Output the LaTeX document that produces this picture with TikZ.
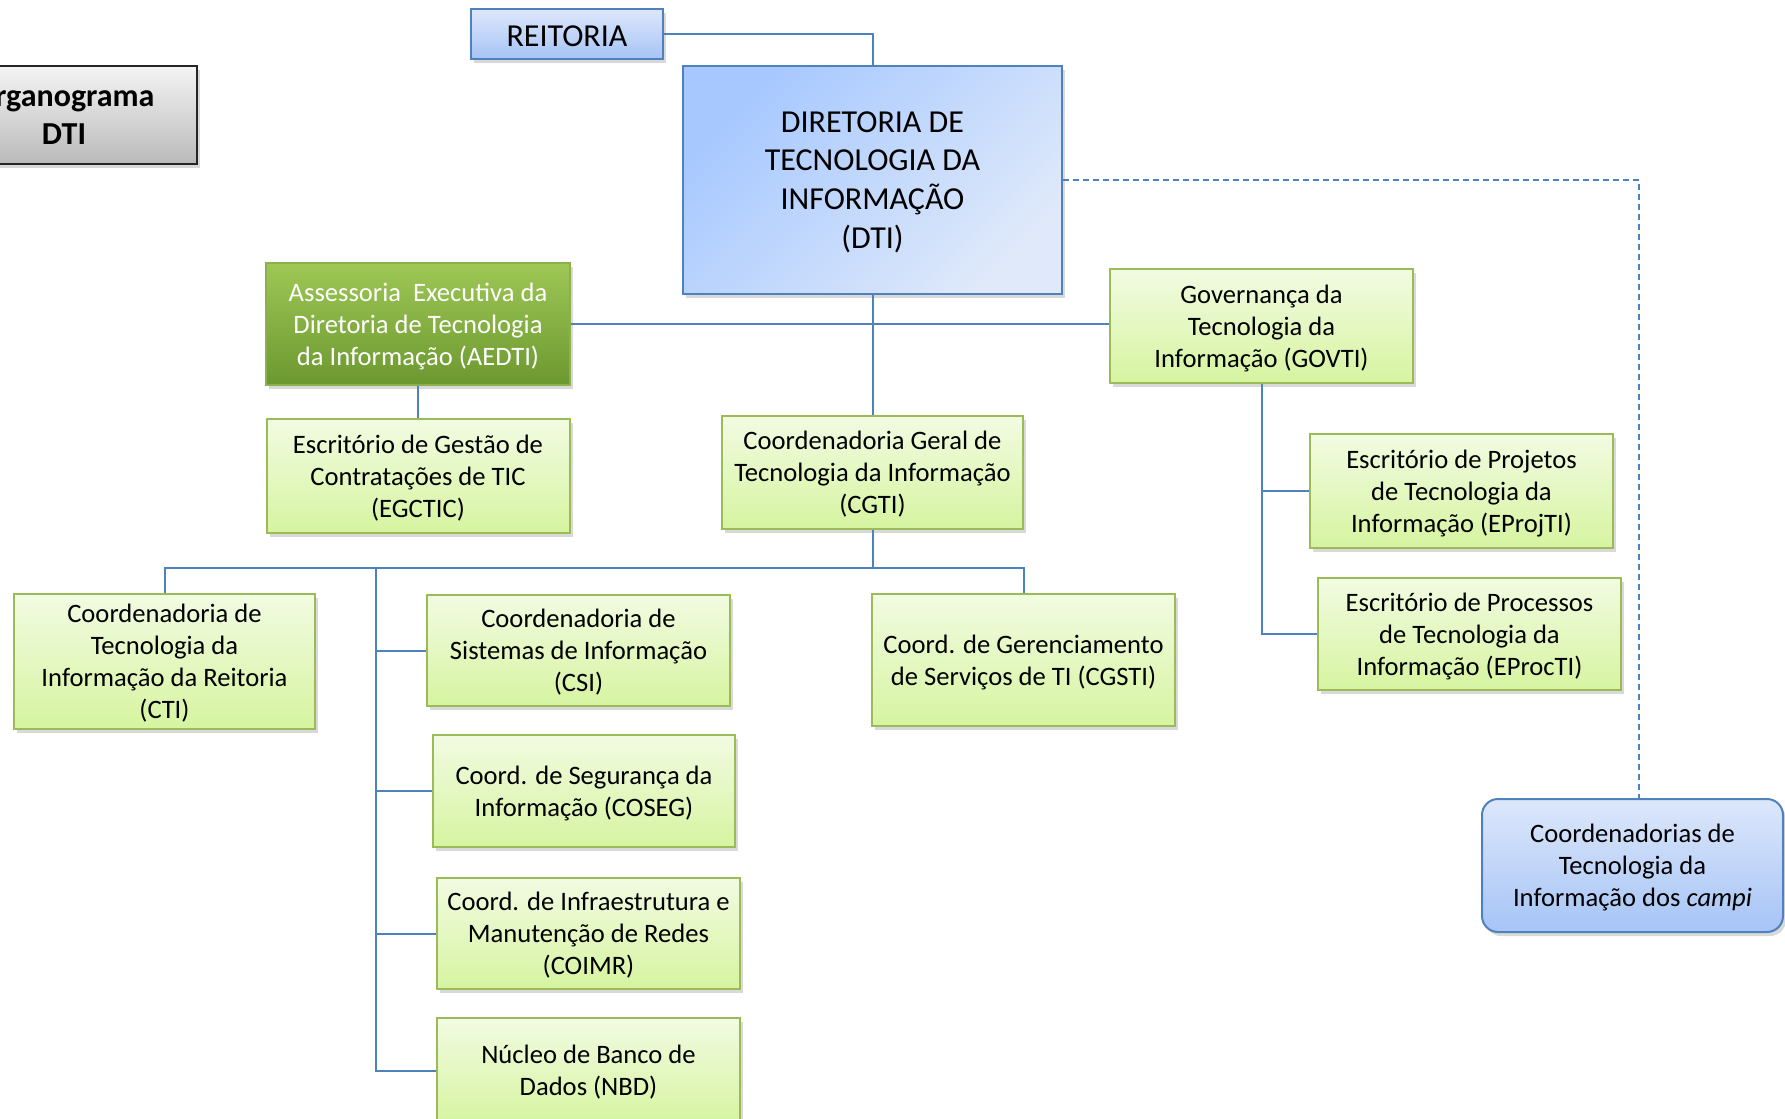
\documentclass[tikz,border=0pt]{standalone}
\usepackage{fontspec}
\setmainfont{Carlito}
\usetikzlibrary{shadows}
\definecolor{linec}{HTML}{4F81BD}
\definecolor{gborder}{HTML}{9BBB59}
\definecolor{gtop}{HTML}{F2FBE2}
\definecolor{gbot}{HTML}{D6F4A0}
\definecolor{atop}{HTML}{9EC755}
\definecolor{abot}{HTML}{6C9830}
\definecolor{aborder}{HTML}{8DB04F}
\definecolor{btop}{HTML}{DDE7FB}
\definecolor{bbot}{HTML}{A6C4F6}
\definecolor{dtitl}{HTML}{A6C8FF}
\definecolor{dtibr}{HTML}{DFE9FA}
\definecolor{bborder}{HTML}{4F81BD}
\definecolor{ogtop}{HTML}{F4F4F4}
\definecolor{ogbot}{HTML}{BABABA}
\begin{document}
\begin{tikzpicture}[x=0.5pt,y=-0.5pt,
  conn/.style={draw=linec, line width=1pt},
  sz/.style 2 args={minimum width={(#1)*0.5pt}, minimum height={(#2)*0.5pt}},
  base/.style={inner sep=0pt, align=center,
    drop shadow={shadow xshift=1.5pt, shadow yshift=-2pt, opacity=0.3}},
  gbox/.style={base, draw=gborder, line width=1pt, top color=gtop, bottom color=gbot,
    font=\fontsize{13.3}{16}\selectfont, text depth=-1pt},
  abox/.style={base, draw=aborder, line width=1pt, top color=atop, bottom color=abot,
    text=white, font=\fontsize{13.3}{16}\selectfont, text depth=-4.4pt},
  bbox/.style={base, draw=bborder, line width=1pt, top color=btop, bottom color=bbot},
  dbox/.style={base, draw=bborder, line width=1pt, top color=dtitl, bottom color=dtibr,
    shading angle=45, font=\fontsize{16}{19.4}\selectfont, text depth=-1.6pt},
  ogbox/.style={base, draw=black!85, line width=1.2pt, top color=ogtop, bottom color=ogbot,
    font=\fontsize{16}{19}\selectfont\bfseries, text depth=-1pt}
]
\useasboundingbox (0,0) rectangle (1785,1119);

% nodes
\node[ogbox, sz={266}{98}] (org) at (64,115) {Organograma\\DTI};
\node[bbox, sz={192}{50}, font=\fontsize{16}{19}\selectfont, execute at begin node={\rule{0pt}{0.8em}}] (reit) at (567,34) {REITORIA};
\node[dbox, sz={379}{228}] (dti) at (872.5,180) {DIRETORIA DE\\TECNOLOGIA DA\\INFORMAÇÃO\\(DTI)};
\node[abox, sz={304}{122}] (aedti) at (418,324) {Assessoria\ \ Executiva da\\Diretoria de Tecnologia\\da Informação (AEDTI)};
\node[gbox, sz={303}{114}, text depth=-1.4pt] (govti) at (1261.5,326) {Governança da\\Tecnologia da\\Informação (GOVTI)};
\node[gbox, sz={303}{114}, text depth=0pt] (egctic) at (418,476) {Escritório de Gestão de\\Contratações de TIC\\(EGCTIC)};
\node[gbox, sz={301}{113}] (cgti) at (872.5,472.5) {Coordenadoria Geral de\\Tecnologia da Informação\\(CGTI)};
\node[gbox, sz={303}{114}, text depth=0pt] (eproj) at (1461.5,491) {Escritório de Projetos\\de Tecnologia da\\Informação (EProjTI)};
\node[gbox, sz={303}{112}, text depth=-2.3pt] (eproc) at (1469.5,634) {Escritório de Processos\\de Tecnologia da\\Informação (EProcTI)};
\node[gbox, sz={301}{135}] (cti) at (164.5,661.5) {Coordenadoria de\\Tecnologia da\\Informação da Reitoria\\(CTI)};
\node[gbox, sz={303}{111}] (csi) at (578.5,650.5) {Coordenadoria de\\Sistemas de Informação\\(CSI)};
\node[gbox, sz={303}{132}] (cgsti) at (1023.5,660) {Coord. de Gerenciamento\\de Serviços de TI (CGSTI)};
\node[gbox, sz={302}{112}] (coseg) at (584,791) {Coord. de Segurança da\\Informação (COSEG)};
\node[gbox, sz={303}{111}] (coimr) at (588.5,933.5) {Coord. de Infraestrutura e\\Manutenção de Redes\\(COIMR)};
\node[gbox, sz={303}{107}, text depth=0.8pt] (nbd) at (588.5,1071) {Núcleo de Banco de\\Dados (NBD)};
\node[bbox, sz={301}{133}, rounded corners=8pt, font=\fontsize{13.3}{16}\selectfont, text depth=0pt] (campi) at (1632.5,865.5) {Coordenadorias de\\Tecnologia da\\Informação dos \textit{campi}};

% connectors
\draw[conn] (reit.east) -| (dti.north);
\draw[conn, dash pattern=on 3pt off 2pt, line width=0.9pt] (dti.east) -| ([xshift=3.25pt]campi.north);
\draw[conn] (dti.south) -- (cgti.north);
\draw[conn] (aedti.east) -- (aedti.east -| govti.west);
\draw[conn] (aedti.south) -- (egctic.north);
\draw[conn] (govti.south) |- (eproj.west);
\draw[conn] (govti.south) |- (eproc.west);
\coordinate (bus) at (872.5,568);
\coordinate (lb) at (376,568);
\draw[conn] (cgti.south) -- (bus);
\draw[conn] (bus) -| (cti.north);
\draw[conn] (bus) -| (cgsti.north);
\draw[conn] (lb) |- (csi.west);
\draw[conn] (lb) |- (coseg.west);
\draw[conn] (lb) |- (coimr.west);
\draw[conn] (lb) |- (nbd.west);
\end{tikzpicture}
\end{document}
